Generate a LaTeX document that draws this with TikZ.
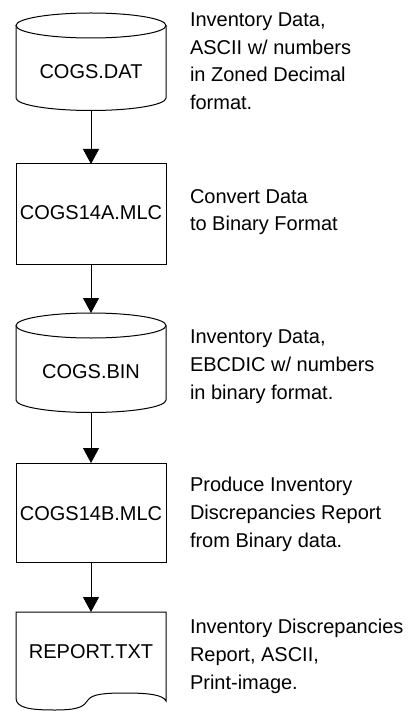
\documentclass[tikz,border=0pt]{standalone}
\usepackage{fontspec}
\setmainfont{Liberation Sans}
\usetikzlibrary{arrows.meta}
\begin{document}
\begin{tikzpicture}[x=1pt,y=-1pt,line width=1pt,
  every node/.style={font=\fontsize{20}{27.7}\selectfont,inner sep=0pt,outer sep=0pt},
  shapearea/.style={minimum width=150pt},
  procbox/.style={draw,minimum width=150pt},
  note/.style={anchor=west,align=left},
  flow/.style={-{Triangle[length=15pt,width=16pt]},line width=0.9pt}]
\useasboundingbox (0,0) rectangle (419,711);

% data store: COGS.DAT
\node[shapearea,minimum height=97.5pt] (cylA) at (91,61.75) {};
\draw ([yshift=-12.5pt]cylA.north west) -- ([yshift=12.5pt]cylA.south west)
      arc[start angle=180,end angle=360,x radius=75pt,y radius=12.5pt]
      -- ([yshift=-12.5pt]cylA.north east);
\draw ([yshift=-12.5pt]cylA.north) ellipse [x radius=75pt,y radius=12.5pt];
\node (cylAtext) at (91,71.7) {COGS.DAT};

% program: COGS14A.MLC
\node[procbox,minimum height=100pt] (boxA) at (91,214) {};
\node (boxAtext) at (91,212.7) {COGS14A.MLC};

% data store: COGS.BIN
\node[shapearea,minimum height=99.5pt] (cylB) at (91,362.75) {};
\draw ([yshift=-12.5pt]cylB.north west) -- ([yshift=12.5pt]cylB.south west)
      arc[start angle=180,end angle=360,x radius=75pt,y radius=12.5pt]
      -- ([yshift=-12.5pt]cylB.north east);
\draw ([yshift=-12.5pt]cylB.north) ellipse [x radius=75pt,y radius=12.5pt];
\node (cylBtext) at (91,372) {COGS.BIN};

% program: COGS14B.MLC
\node[procbox,minimum height=99pt] (boxB) at (91,512.5) {};
\node (boxBtext) at (91,513.3) {COGS14B.MLC};

% printed document: REPORT.TXT
\node[shapearea,minimum height=98pt] (docA) at (91,661) {};
\draw (docA.north west) -- (docA.north east) -- (166,701)
      .. controls (163,695) and (150,693) .. (125,693)
      .. controls (105,693) and (92,694) .. (88,700)
      .. controls (84,706) and (80,710) .. (55,710)
      .. controls (30,710) and (16,708) .. (16,698) -- cycle;
\node (docAtext) at (91,651.8) {REPORT.TXT};

% flow of data
\draw[flow] (cylA.south) -- (boxA.north);
\draw[flow] (boxA.south) -- (cylB.north);
\draw[flow] (cylB.south) -- (boxB.north);
\draw[flow] (boxB.south) -- (docA.north);

% descriptions
\node[note] (noteA) at (190,61.25) {Inventory Data,\\ASCII w/ numbers\\in Zoned Decimal\\format.};
\node[note] (noteB) at (190,212) {Convert Data\\to Binary Format};
\node[note] (noteC) at (190,366.8) {Inventory Data,\\EBCDIC w/ numbers\\in binary format.};
\node[note] (noteD) at (190,514.5) {Produce Inventory\\Discrepancies Report\\from Binary data.};
\node[note] (noteE) at (190,656.3) {Inventory Discrepancies\\Report, ASCII,\\Print-image.};
\end{tikzpicture}
\end{document}
